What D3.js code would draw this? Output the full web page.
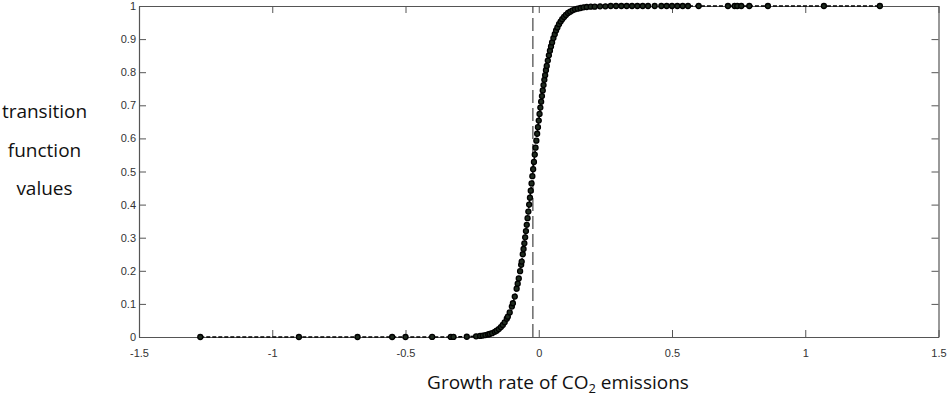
<!DOCTYPE html>
<html>
<head>
<meta charset="utf-8">
<script src="https://cdn.jsdelivr.net/npm/d3@7"></script>
<style>
  body { margin: 0; background: #fff; }
  svg { display: block; }
</style>
</head>
<body>
<div id="chart"></div>
<script>
const width = 948;
const height = 397;
const marginLeft = 139;
const marginRight = 9.5;
const marginTop = 6;
const marginBottom = 60;

// growth rate of CO2 emissions (observations)
const growthRate = [
  -1.27, -0.90, -0.68, -0.55, -0.50, -0.40, -0.33, -0.32, -0.27, -0.235, -0.22, -0.21,
  -0.20, -0.19, -0.184, -0.175, -0.165, -0.158, -0.15, -0.142, -0.135, -0.128, -0.12,
  -0.116, -0.109, -0.101, -0.097, -0.09, -0.083, -0.079, -0.075, -0.07, -0.066, -0.064,
  -0.06, -0.057, -0.054, -0.051, -0.048, -0.045, -0.042, -0.039, -0.036, -0.033, -0.03,
  -0.027, -0.024, -0.021, -0.018, -0.015, -0.012, -0.009, -0.006, -0.003, 0.0, 0.003,
  0.006, 0.009, 0.012, 0.015, 0.018, 0.021, 0.024, 0.027, 0.030, 0.034, 0.038, 0.042,
  0.046, 0.050, 0.055, 0.060, 0.065, 0.070, 0.076, 0.082, 0.088, 0.095, 0.102, 0.110,
  0.118, 0.127, 0.136, 0.146, 0.157, 0.168, 0.180, 0.195, 0.21, 0.23, 0.25,
  0.27, 0.29, 0.31, 0.33, 0.35, 0.37, 0.39, 0.41, 0.435, 0.46, 0.48, 0.50, 0.52, 0.54,
  0.56, 0.60, 0.71, 0.735, 0.745, 0.76, 0.79, 0.86, 1.07, 1.28
];

// transition function value at each observation
const transitionValue = [
  0, 0, 0, 0, 0, 0.0001, 0.0002, 0.0003, 0.00075, 0.0021, 0.0032, 0.0043,
  0.0057, 0.0076, 0.009, 0.0117, 0.0155, 0.019, 0.0239, 0.0299, 0.0364, 0.0443, 0.0552,
  0.0613, 0.0741, 0.092, 0.102, 0.122, 0.146, 0.161, 0.177, 0.199, 0.218, 0.228,
  0.25, 0.266, 0.283, 0.301, 0.32, 0.339, 0.359, 0.379, 0.40, 0.421, 0.442,
  0.464, 0.486, 0.507, 0.529, 0.551, 0.572, 0.593, 0.614, 0.634, 0.654, 0.674,
  0.693, 0.711, 0.728, 0.745, 0.761, 0.777, 0.791, 0.806, 0.819, 0.835, 0.851, 0.865,
  0.878, 0.890, 0.903, 0.915, 0.926, 0.935, 0.945, 0.953, 0.960, 0.967, 0.973, 0.979,
  0.983, 0.987, 0.990, 0.992, 0.994, 0.996, 0.997, 0.998, 0.998, 0.999, 0.999,
  1, 1, 1, 1, 1, 1, 1, 1, 1, 1, 1, 1, 1, 1,
  1, 1, 1, 1, 1, 1, 1, 1, 1, 1
];

const threshold = -0.022;
const xTicks = [-1.5, -1, -0.5, 0, 0.5, 1, 1.5];
const yTicks = [0, 0.1, 0.2, 0.3, 0.4, 0.5, 0.6, 0.7, 0.8, 0.9, 1];
const yTitle = ["transition", "function", "values"];

const data = growthRate.map((g, i) => ({ x: g, y: transitionValue[i] }));

const svg = d3.select("#chart").append("svg")
    .attr("width", width)
    .attr("height", height);

const x = d3.scaleLinear()
    .domain([-1.5, 1.5])
    .range([marginLeft, width - marginRight]);

const y = d3.scaleLinear()
    .domain([0, 1])
    .range([height - marginBottom, marginTop]);

const axisColor = "#555";
const tickFont = "Liberation Sans, Arial, sans-serif";

// bottom axis, ticks pointing inward
const xAxis = svg.append("g")
    .attr("transform", `translate(0,${y(0)})`)
    .call(d3.axisBottom(x).tickValues(xTicks).tickSizeInner(-7).tickSizeOuter(0)
        .tickPadding(12).tickFormat(d => String(d)));
// top axis, no labels
const xTop = svg.append("g")
    .attr("transform", `translate(0,${y(1)})`)
    .call(d3.axisTop(x).tickValues(xTicks).tickSizeInner(-7).tickSizeOuter(0).tickFormat(""));
const yAxis = svg.append("g")
    .attr("transform", `translate(${x(-1.5)},0)`)
    .call(d3.axisLeft(y).tickValues(yTicks).tickSizeInner(-7).tickSizeOuter(0)
        .tickPadding(3).tickFormat(d => String(d)));
const yRight = svg.append("g")
    .attr("transform", `translate(${x(1.5)},0)`)
    .call(d3.axisRight(y).tickValues(yTicks).tickSizeInner(-7).tickSizeOuter(0).tickFormat(""));

[xAxis, xTop, yAxis, yRight].forEach(g => {
    g.select(".domain").attr("stroke", axisColor).attr("stroke-width", 1.2);
    g.selectAll(".tick line").attr("stroke", axisColor).attr("stroke-width", 1);
    g.selectAll(".tick text")
        .attr("fill", "#333")
        .style("font-family", tickFont)
        .style("font-size", "11px");
});

// threshold line
svg.append("line")
    .attr("x1", x(threshold)).attr("x2", x(threshold))
    .attr("y1", y(0)).attr("y2", y(1))
    .attr("stroke", "#333")
    .attr("stroke-width", 1.1)
    .attr("stroke-dasharray", "13,5");

// transition function
svg.append("path")
    .datum(data)
    .attr("fill", "none")
    .attr("stroke", "#000")
    .attr("stroke-width", 1.6)
    .attr("stroke-dasharray", "4,2")
    .attr("d", d3.line().x(d => x(d.x)).y(d => y(d.y)));

svg.selectAll(".pt")
    .data(data)
    .enter().append("circle")
    .attr("class", "pt")
    .attr("cx", d => x(d.x))
    .attr("cy", d => y(d.y))
    .attr("r", 2.5)
    .attr("fill", "#1e2a1e")
    .attr("stroke", "#000")
    .attr("stroke-width", 1.3);

// y title
svg.append("g").selectAll("text")
    .data(yTitle)
    .enter().append("text")
    .attr("x", 44.5)
    .attr("y", (d, i) => 118 + i * 38.5)
    .attr("text-anchor", "middle")
    .style("font-family", "Open Sans, sans-serif")
    .style("font-size", "19px")
    .attr("fill", "#111")
    .text(d => d);

// x title
const xt = svg.append("text")
    .attr("x", 558)
    .attr("y", 389)
    .attr("text-anchor", "middle")
    .style("font-family", "Open Sans, sans-serif")
    .style("font-size", "19px")
    .attr("fill", "#111");
xt.append("tspan").text("Growth rate of CO");
xt.append("tspan").attr("dy", 4).style("font-size", "13px").text("2");
xt.append("tspan").attr("dy", -4).text(" emissions");
</script>
</body>
</html>
